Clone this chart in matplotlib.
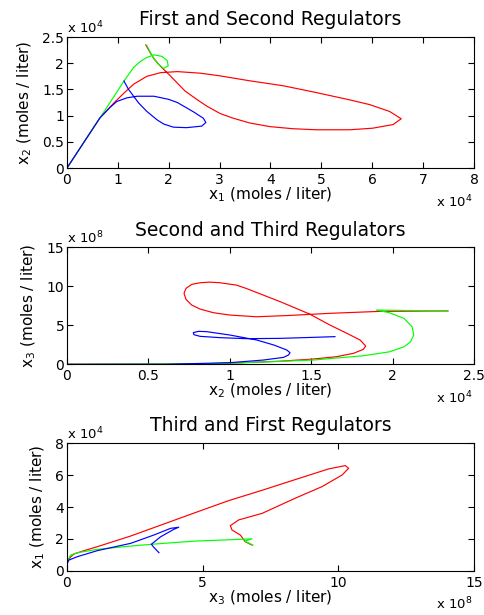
import matplotlib
matplotlib.use('Agg')
import matplotlib.pyplot as plt
from matplotlib.ticker import FuncFormatter

plt.rcParams['font.family'] = 'DejaVu Sans'
plt.rcParams['mathtext.default'] = 'regular'

# Phase portraits of the three regulators.
# x1, x2 in units of 1e4 moles/liter, x3 in units of 1e8 moles/liter.

# --- x1 vs x2 ---
red_12_x = [0, 0.65, 0.72, 0.92, 1.12, 1.31, 1.57, 1.84, 2.17, 2.62, 3.00, 3.59, 4.25, 4.90, 5.56, 5.95,
            6.34, 6.57, 6.41, 6.01, 5.56, 4.90, 4.44, 3.99, 3.59, 3.27, 3.01, 2.75, 2.55, 2.32, 2.17,
            2.03, 1.85, 1.72, 1.63, 1.55]
red_12_y = [0, 0.96, 1.03, 1.24, 1.43, 1.60, 1.75, 1.82, 1.84, 1.81, 1.76, 1.665, 1.57, 1.44, 1.30, 1.21,
            1.08, 0.94, 0.83, 0.76, 0.73, 0.73, 0.75, 0.79, 0.86, 0.95, 1.04, 1.18, 1.31, 1.47, 1.62,
            1.76, 1.93, 2.07, 2.21, 2.35]
green_12_x = [0, 0.65, 0.90, 1.12, 1.31, 1.45, 1.57, 1.71, 1.87, 1.97, 1.99, 1.90, 1.80, 1.71, 1.63, 1.57]
green_12_y = [0, 0.96, 1.33, 1.66, 1.92, 2.04, 2.11, 2.16, 2.13, 2.05, 1.95, 1.90, 1.98, 2.09, 2.22, 2.34]
blue_12_x = [0, 0.65, 0.75, 0.85, 0.98, 1.18, 1.38, 1.71, 2.00, 2.17, 2.49, 2.68, 2.73, 2.65, 2.35, 2.09,
             1.90, 1.77, 1.57, 1.41, 1.31, 1.21, 1.12]
blue_12_y = [0, 0.96, 1.06, 1.16, 1.27, 1.34, 1.37, 1.37, 1.31, 1.25, 1.07, 0.95, 0.87, 0.80, 0.77, 0.78,
             0.84, 0.92, 1.08, 1.24, 1.37, 1.50, 1.66]

# --- x2 vs x3 ---
red_23_x = [0, 0.8, 1.0, 1.31, 1.513, 1.656, 1.76, 1.82, 1.835, 1.80, 1.72, 1.615, 1.49, 1.31, 1.10,
            1.04, 0.94, 0.878, 0.817, 0.766, 0.731, 0.719, 0.731, 0.766, 0.817, 0.899, 1.0, 1.165, 1.37,
            1.615, 1.92, 2.15, 2.34]
red_23_y = [0, 0.05, 0.15, 0.40, 0.68, 0.98, 1.41, 1.92, 2.35, 3.12, 3.97, 5.04, 6.45, 8.03, 9.74,
            10.16, 10.46, 10.54, 10.46, 10.25, 9.74, 9.10, 8.33, 7.60, 7.09, 6.62, 6.32, 6.10, 6.27,
            6.54, 6.79, 6.82, 6.85]
green_23_x = [0, 0.8, 1.0, 1.31, 1.513, 1.82, 1.98, 2.07, 2.11, 2.13, 2.12, 2.07, 1.98, 1.90, 2.10, 2.34]
green_23_y = [0, 0.05, 0.15, 0.38, 0.55, 1.10, 1.60, 2.25, 2.89, 3.75, 4.82, 5.89, 6.62, 6.96, 6.90, 6.85]
blue_23_x = [0, 0.6, 1.0, 1.206, 1.33, 1.36, 1.37, 1.35, 1.27, 1.165, 1.0, 0.858, 0.807, 0.776, 0.78,
             0.817, 0.94, 1.10, 1.31, 1.515, 1.646]
blue_23_y = [0, 0.0, 0.21, 0.55, 0.89, 1.19, 1.49, 1.84, 2.48, 3.12, 3.76, 4.19, 4.23, 4.06, 3.80,
             3.59, 3.42, 3.29, 3.33, 3.46, 3.55]

# --- x3 vs x1 ---
red_31_x = [0, 0.0, 0.037, 0.135, 0.26, 0.63, 1.12, 2.35, 3.55, 4.73, 5.96, 7.19, 8.41, 9.64, 10.26,
            10.38, 10.14, 9.40, 8.41, 7.19, 6.33, 6.02, 6.08, 6.39, 6.57, 6.82]
red_31_y = [0, 0.30, 0.60, 0.88, 1.05, 1.26, 1.51, 2.18, 2.92, 3.65, 4.40, 5.05, 5.72, 6.39, 6.60,
            6.43, 6.01, 5.28, 4.55, 3.60, 3.19, 2.83, 2.56, 2.24, 1.82, 1.61]
green_31_x = [0, 0.0, 0.135, 0.38, 1.12, 2.35, 3.57, 4.73, 5.96, 6.82, 6.55, 6.85]
green_31_y = [0, 0.57, 0.98, 1.13, 1.34, 1.55, 1.72, 1.86, 1.94, 2.00, 1.86, 1.61]
blue_31_x = [0, 0.0, 0.07, 0.38, 1.12, 2.35, 3.20, 3.82, 4.12, 3.94, 3.45, 3.11, 3.20, 3.39]
blue_31_y = [0, 0.46, 0.67, 0.88, 1.26, 1.72, 2.24, 2.66, 2.73, 2.60, 2.13, 1.66, 1.47, 1.13]


def setup_axes(ax, title, xlabel, ylabel, xticks, yticks, xexp, yexp):
    ax.set_xlim(xticks[0], xticks[-1])
    ax.set_ylim(yticks[0], yticks[-1])
    ax.set_xticks(xticks)
    ax.set_yticks(yticks)
    fmt = FuncFormatter(lambda v, pos: '%g' % v)
    ax.xaxis.set_major_formatter(fmt)
    ax.yaxis.set_major_formatter(fmt)
    ax.tick_params(direction='in', top=True, right=True, length=4, width=0.8, labelsize=10)
    ax.tick_params(axis='x', pad=3.5)
    ax.tick_params(axis='y', pad=2)
    for s in ax.spines.values():
        s.set_linewidth(0.8)
    ax.set_title(title, fontsize=13.5, pad=8.5)
    ax.set_xlabel(xlabel, fontsize=11, labelpad=-1)
    ax.set_ylabel(ylabel, fontsize=11, labelpad=6)
    # exponent labels, MATLAB style
    ax.annotate('x 10$^{%d}$' % yexp, xy=(0, 1), xycoords='axes fraction',
                xytext=(0, 3), textcoords='offset points', ha='left', va='baseline', fontsize=9.5)
    ax.annotate('x 10$^{%d}$' % xexp, xy=(1, 0), xycoords='axes fraction',
                xytext=(-1, -28), textcoords='offset points', ha='right', va='baseline', fontsize=9.5)


fig = plt.figure(figsize=(4.85, 6.15), dpi=100)
ax1 = fig.add_axes([0.1381, 0.7268, 0.8392, 0.2130])
ax2 = fig.add_axes([0.1381, 0.4076, 0.8392, 0.1902])
ax3 = fig.add_axes([0.1381, 0.0720, 0.8392, 0.2072])

lw = 0.85
ax1.plot(red_12_x, red_12_y, color='#ff0000', lw=lw)
ax1.plot(green_12_x, green_12_y, color='#00ff00', lw=lw)
ax1.plot(blue_12_x, blue_12_y, color='#0000ff', lw=lw)
setup_axes(ax1, 'First and Second Regulators', 'x$_1$ (moles / liter)', 'x$_2$ (moles / liter)',
           [0, 1, 2, 3, 4, 5, 6, 7, 8], [0, 0.5, 1, 1.5, 2, 2.5], 4, 4)

ax2.plot(red_23_x, red_23_y, color='#ff0000', lw=lw)
ax2.plot(green_23_x, green_23_y, color='#00ff00', lw=lw)
ax2.plot(blue_23_x, blue_23_y, color='#0000ff', lw=lw)
setup_axes(ax2, 'Second and Third Regulators', 'x$_2$ (moles / liter)', 'x$_3$ (moles / liter)',
           [0, 0.5, 1, 1.5, 2, 2.5], [0, 5, 10, 15], 4, 8)

ax3.plot(red_31_x, red_31_y, color='#ff0000', lw=lw)
ax3.plot(green_31_x, green_31_y, color='#00ff00', lw=lw)
ax3.plot(blue_31_x, blue_31_y, color='#0000ff', lw=lw)
setup_axes(ax3, 'Third and First Regulators', 'x$_3$ (moles / liter)', 'x$_1$ (moles / liter)',
           [0, 5, 10, 15], [0, 2, 4, 6, 8], 8, 4)

fig.savefig('out.png', dpi=100)
